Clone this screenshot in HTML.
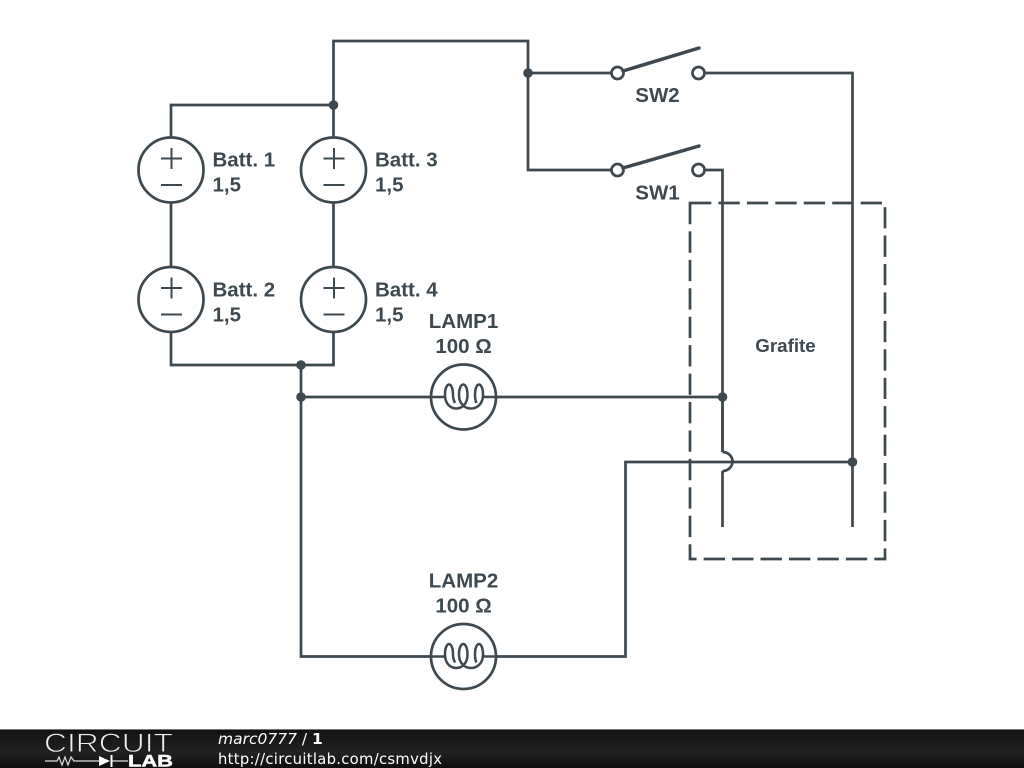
<!DOCTYPE html>
<html><head><meta charset="utf-8"><style>
html,body{margin:0;padding:0;background:#fff}
svg{display:block}
</style></head><body>
<svg width="1024" height="768" viewBox="0 0 1024 768" xmlns="http://www.w3.org/2000/svg">
<defs>
<linearGradient id="g" x1="0" y1="0" x2="0" y2="1"><stop offset="0" stop-color="#111"/><stop offset="0.6" stop-color="#222"/><stop offset="1" stop-color="#0e0e0e"/></linearGradient>
</defs>
<rect width="1024" height="768" fill="#fff"/>
<g fill="none" stroke="#3e484f" stroke-width="2.700">
<path d="M171 137V105H333.500M333.500 137V41H528V170H612M528 73H612M704 73H852.500V527M704 170H722.500V452M722.500 471V527"/>
<path d="M722.500 452A10 9.500 0 0 1 722.500 471"/>
<path d="M171 203V267M333.500 203V267M171 332V365H333.500V332M301 365V656.500H431M301 397H431M496 397H722.500V452M496 656.500H625.500V462H852.500"/>
<circle cx="171" cy="170" r="32.500"/><circle cx="333.500" cy="170" r="32.500"/>
<circle cx="171" cy="299.500" r="32.500"/><circle cx="333.500" cy="299.500" r="32.500"/>
<path stroke-width="2" d="M161 158.500H182M171.500 148V169M161 185H182M323.500 158.500H344.500M334 148V169M323.500 185H344.500M161 288H182M171.500 277.500V298.500M161 314.500H182M323.500 288H344.500M334 277.500V298.500M323.500 314.500H344.500"/>
<circle cx="463.500" cy="397" r="32.500"/><circle cx="463.500" cy="656.500" r="32.500"/>
<g stroke-width="2.500">
<path d="M431 397H445M445 395C445 413 467.500 413 467.500 395C467.500 381 459 381 459 395C459 413 483 413 483 395M445 395C445 381 453 381 453 395C453 398 454 401 455 403M483 395C483 381 475 381 475 395C475 398 475.500 401 476.500 403M483 395C483 396 483.500 397 485 397H496"/>
<path transform="translate(0 259.500)" d="M431 397H445M445 395C445 413 467.500 413 467.500 395C467.500 381 459 381 459 395C459 413 483 413 483 395M445 395C445 381 453 381 453 395C453 398 454 401 455 403M483 395C483 381 475 381 475 395C475 398 475.500 401 476.500 403M483 395C483 396 483.500 397 485 397H496"/>
</g>
<circle cx="617.500" cy="73" r="6" fill="#fff"/><circle cx="698.500" cy="73" r="6" fill="#fff"/>
<circle cx="617.500" cy="170" r="6" fill="#fff"/><circle cx="698.500" cy="170" r="6" fill="#fff"/>
<path d="M623 71L699 48M623 168L699 146" stroke-width="3.500" stroke-linecap="round"/>
<path d="M690 203H885V559H690Z" stroke-dasharray="21.330 7.110"/>
</g>
<g fill="#3e484f">
<circle cx="333.500" cy="105" r="4.800"/><circle cx="528" cy="73" r="4.800"/><circle cx="301" cy="365" r="4.800"/><circle cx="301" cy="397" r="4.800"/><circle cx="722.500" cy="397" r="4.800"/><circle cx="852.500" cy="462" r="4.800"/>
</g>
<g fill="#3e484f" font-family="'Liberation Sans',sans-serif" font-weight="bold" font-size="20.500">
<text x="212.500" y="166.500">Batt. 1</text><text x="212.500" y="191.500">1,5</text>
<text x="375" y="166.500">Batt. 3</text><text x="375" y="191.500">1,5</text>
<text x="212.500" y="296.500">Batt. 2</text><text x="212.500" y="321.500">1,5</text>
<text x="375" y="296.500">Batt. 4</text><text x="375" y="321.500">1,5</text>
<g text-anchor="middle">
<text x="463.500" y="328">LAMP1</text><text x="463.500" y="353">100 Ω</text>
<text x="463.500" y="587.500">LAMP2</text><text x="463.500" y="612.500">100 Ω</text>
<text x="657.500" y="102">SW2</text><text x="657.500" y="199.500">SW1</text>
<text x="785.500" y="352" font-size="18.800">Grafite</text>
</g></g>
<rect y="729" width="1024" height="39" fill="url(#g)"/>
<rect y="729" width="1024" height="1" fill="#777"/>
<text x="44" y="752" font-family="'Liberation Sans',sans-serif" font-size="27" fill="#f0f0f0" stroke="#1a1a1a" stroke-width="0.900" textLength="129" lengthAdjust="spacingAndGlyphs">CIRCUIT</text>
<path d="M45 761H57L59 757L62 765L65 757L68 765L71 757L74 761H99M112 761H128" fill="none" stroke="#ddd" stroke-width="1.200"/>
<path d="M99 756V766L110 761Z M110.500 755H112.500V767H110.500Z" fill="#fff"/>
<text x="128" y="766.500" font-family="'Liberation Sans',sans-serif" font-size="16.500" font-weight="bold" fill="#fff" stroke="#fff" stroke-width="0.500" textLength="45" lengthAdjust="spacingAndGlyphs">LAB</text>
<g font-family="'DejaVu Sans',sans-serif" fill="#fff">
<text x="218" y="744" font-size="15.500"><tspan font-style="italic">marc0777</tspan> / <tspan font-weight="bold">1</tspan></text>
<text x="218" y="764" font-size="14.800" textLength="224">http://circuitlab.com/csmvdjx</text>
</g>
</svg>
</body></html>
